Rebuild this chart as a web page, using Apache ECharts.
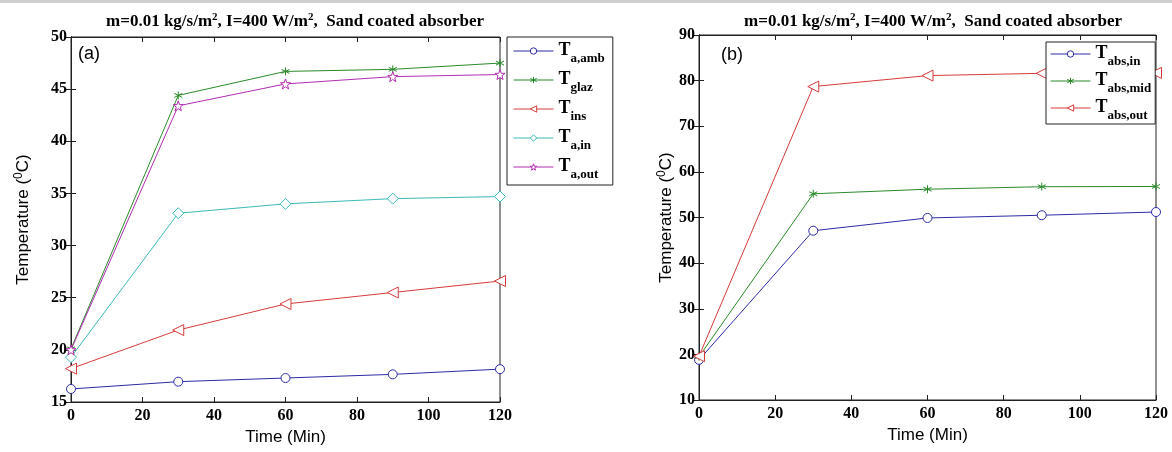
<!DOCTYPE html>
<html>
<head>
<meta charset="utf-8">
<script src="https://cdn.jsdelivr.net/npm/echarts@6/dist/echarts.min.js"></script>
<style>
  html, body { margin: 0; padding: 0; background: #fff; }
  #chart { width: 1172px; height: 452px; }
</style>
</head>
<body>
<div id="chart"></div>
<script>
// time axis (min)
var times = [0, 30, 60, 90, 120];

// (a) air / glazing / insulation temperatures
var tAmb  = [16.25, 16.95, 17.3, 17.65, 18.15];
var tGlaz = [20.1, 44.4, 46.7, 46.9, 47.5];
var tIns  = [18.2, 21.9, 24.4, 25.5, 26.6];
var tAin  = [19.3, 33.1, 34.0, 34.5, 34.7];
var tAout = [20.0, 43.4, 45.5, 46.2, 46.4];

// (b) absorber temperatures
var tAbsIn  = [18.8, 47.1, 49.9, 50.5, 51.2];
var tAbsMid = [19.5, 55.2, 56.2, 56.75, 56.8];
var tAbsOut = [19.6, 78.7, 81.1, 81.6, 81.7];

var namesA = ['T_a,amb', 'T_glaz', 'T_ins', 'T_a,in', 'T_a,out'];
var namesB = ['T_abs,in', 'T_abs,mid', 'T_abs,out'];

var BLUE = '#2c2ca6', GREEN = '#2a8a2a', RED = '#d63c3c', CYAN = '#3cb9b9', MAGENTA = '#b22db2';

var asterisk = 'path://M0,-5L0,5M-4.33,-2.5L4.33,2.5M-4.33,2.5L4.33,-2.5';
var pentagram = 'path://M0,-10L2.35,-3.24L9.51,-3.09L3.8,1.24L5.88,8.09L0,4.2L-5.88,8.09L-3.8,1.24L-9.51,-3.09L-2.35,-3.24Z';

function pairs(ys) {
  return times.map(function (t, i) { return [t, ys[i]]; });
}

function mkSeries(name, ys, color, symbol, size, rotate, idx) {
  return {
    name: name,
    type: 'line',
    xAxisIndex: idx,
    yAxisIndex: idx,
    data: pairs(ys),
    symbol: symbol,
    symbolSize: size,
    symbolRotate: rotate || 0,
    showAllSymbol: true,
    animation: false,
    lineStyle: { color: color, width: 1 },
    itemStyle: { color: '#fff', borderColor: color, borderWidth: 1 },
    emphasis: { disabled: true }
  };
}

var tickFont = { fontFamily: 'Liberation Serif', fontWeight: 'bold', fontSize: 16, color: '#000' };

function xAxes(idx) {
  return [{
    type: 'value', gridIndex: idx, min: 0, max: 120, interval: 20,
    name: 'Time (Min)', nameLocation: 'middle', nameGap: 26,
    nameTextStyle: { fontFamily: 'Liberation Sans', fontSize: 17, color: '#000' },
    axisLine: { lineStyle: { color: '#222' } },
    axisTick: { inside: true, length: 5, lineStyle: { color: '#222' } },
    axisLabel: Object.assign({ margin: 6 }, tickFont),
    splitLine: { show: false }
  }, {
    type: 'value', gridIndex: idx, position: 'top', min: 0, max: 120, interval: 20,
    axisLine: { lineStyle: { color: '#222' } },
    axisTick: { inside: true, length: 5, lineStyle: { color: '#222' } },
    axisLabel: { show: false },
    splitLine: { show: false }
  }];
}

function yAxes(idx, min, max, step, gap) {
  return [{
    type: 'value', gridIndex: idx, min: min, max: max, interval: step,
    name: 'Temperature ({sup|0}C)', nameLocation: 'middle', nameGap: gap, nameRotate: 90,
    nameTextStyle: {
      fontFamily: 'Liberation Sans', fontSize: 17, color: '#000',
      rich: { sup: { fontFamily: 'Liberation Sans', fontSize: 12, color: '#000', verticalAlign: 'top', padding: [0, 0, 8, 0] } }
    },
    axisLine: { lineStyle: { color: '#222' } },
    axisTick: { inside: true, length: 5, lineStyle: { color: '#222' } },
    axisLabel: Object.assign({ margin: 4 }, tickFont),
    splitLine: { show: false }
  }, {
    type: 'value', gridIndex: idx, position: 'right', min: min, max: max, interval: step,
    axisLine: { lineStyle: { color: '#222' } },
    axisTick: { inside: true, length: 5, lineStyle: { color: '#222' } },
    axisLabel: { show: false },
    splitLine: { show: false }
  }];
}

function legendFmt(name) {
  var s = name.split('_');
  return '{t|' + s[0] + '}{s|' + s[1] + '}';
}

var legendRich = {
  t: { fontFamily: 'Liberation Serif', fontWeight: 'bold', fontSize: 18, color: '#000', lineHeight: 20, verticalAlign: 'top' },
  s: { fontFamily: 'Liberation Serif', fontWeight: 'bold', fontSize: 13, color: '#000', lineHeight: 20, padding: [11, 0, 0, 0], verticalAlign: 'top' }
};

var titleText = 'm=0.01 kg/s/m{sup|2}, I=400 W/m{sup|2},  Sand coated absorber';
var titleRich = {
  sup: { fontFamily: 'Liberation Serif', fontWeight: 'bold', fontSize: 11, color: '#000', verticalAlign: 'top', padding: [0, 0, 8, 0] }
};

var chart = echarts.init(document.getElementById('chart'));
var option = {
  backgroundColor: '#fff',
  animation: false,
  title: [{
    text: titleText, left: 290, top: 7, textAlign: 'center',
    textStyle: { fontFamily: 'Liberation Serif', fontWeight: 'bold', fontSize: 17, color: '#000', rich: titleRich }
  }, {
    text: titleText, left: 928, top: 7, textAlign: 'center',
    textStyle: { fontFamily: 'Liberation Serif', fontWeight: 'bold', fontSize: 17, color: '#000', rich: titleRich }
  }],
  graphic: [
    { type: 'rect', shape: { x: 0, y: 0, width: 1172, height: 3 }, style: { fill: '#cfcfcf' }, silent: true },
    { type: 'text', left: 78, top: 45, style: { text: '(a)', font: '18px "Liberation Sans"', fill: '#000' } },
    { type: 'text', left: 721, top: 46, style: { text: '(b)', font: '18px "Liberation Sans"', fill: '#000' } }
  ],
  grid: [
    { left: 71, top: 37, width: 429, height: 365, show: true, borderColor: '#222', borderWidth: 1, backgroundColor: '#fff' },
    { left: 699, top: 35, width: 457, height: 365, show: true, borderColor: '#222', borderWidth: 1, backgroundColor: '#fff' }
  ],
  xAxis: xAxes(0).concat(xAxes(1)),
  yAxis: yAxes(0, 15, 50, 5, 38).concat(yAxes(1, 10, 90, 10, 23)),
  legend: [{
    data: namesA, orient: 'vertical', left: 507, top: 37,
    backgroundColor: '#fff', borderColor: '#222', borderWidth: 1,
    padding: [4, 8, 4, 6], itemGap: 5, itemWidth: 40, itemHeight: 8,
    lineStyle: { width: 1 }, itemStyle: { borderWidth: 1 },
    formatter: legendFmt, textStyle: { rich: legendRich }, selectedMode: false
  }, {
    data: namesB, orient: 'vertical', left: 1046, top: 42,
    backgroundColor: '#fff', borderColor: '#222', borderWidth: 1,
    padding: [2, 4, 2, 4], itemGap: 3, itemWidth: 40, itemHeight: 8,
    lineStyle: { width: 1 }, itemStyle: { borderWidth: 1 },
    formatter: legendFmt, textStyle: { rich: legendRich }, selectedMode: false
  }],
  series: [
    mkSeries(namesA[0], tAmb, BLUE, 'circle', 9, 0, 0),
    mkSeries(namesA[1], tGlaz, GREEN, asterisk, 8, 0, 0),
    mkSeries(namesA[2], tIns, RED, 'triangle', 11, 90, 0),
    mkSeries(namesA[3], tAin, CYAN, 'diamond', 11, 0, 0),
    mkSeries(namesA[4], tAout, MAGENTA, pentagram, 10, 0, 0),
    mkSeries(namesB[0], tAbsIn, BLUE, 'circle', 9, 0, 2),
    mkSeries(namesB[1], tAbsMid, GREEN, asterisk, 8, 0, 2),
    mkSeries(namesB[2], tAbsOut, RED, 'triangle', 11, 90, 2)
  ]
};
// the series in grid 1 use axis index 2 (axes are bottom/top and left/right pairs)
chart.setOption(option);
</script>
</body>
</html>
